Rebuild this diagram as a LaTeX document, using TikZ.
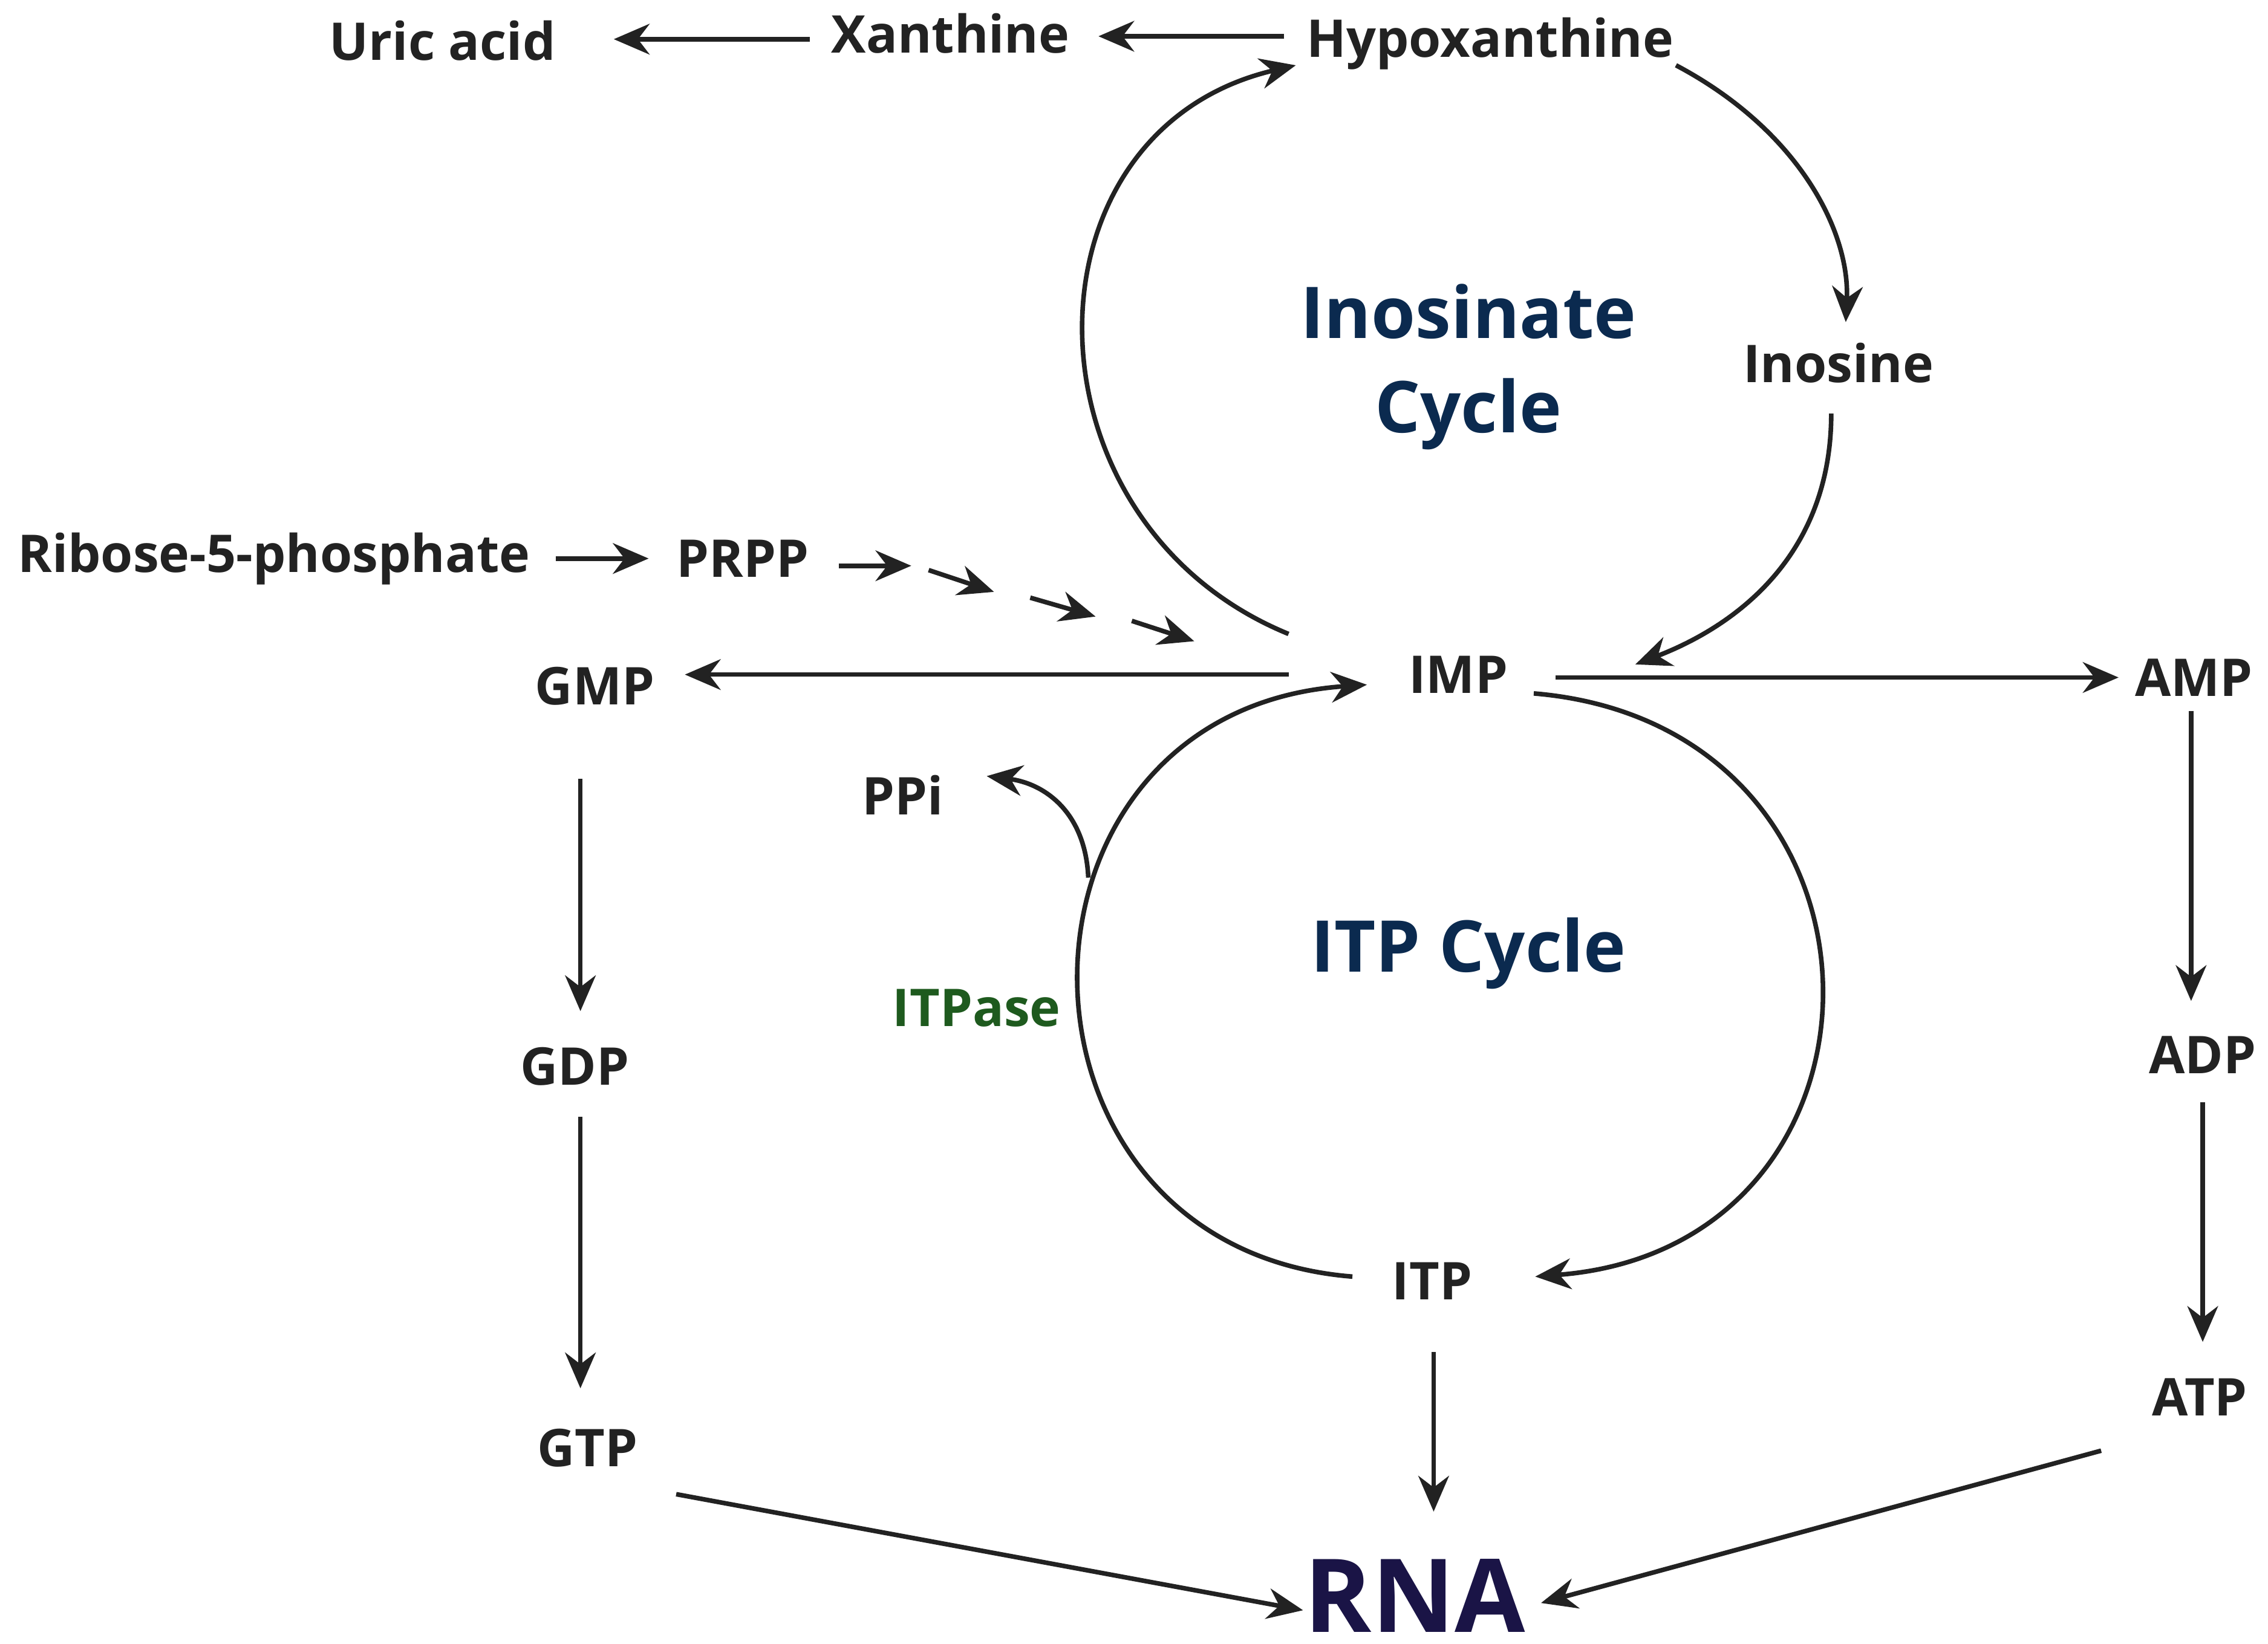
\documentclass[tikz,border=0pt]{standalone}
\usepackage{fontspec}
\setmainfont{Open Sans}
\usetikzlibrary{arrows.meta}
\definecolor{txt}{HTML}{222222}
\definecolor{navy}{HTML}{0B2A4F}
\definecolor{rnac}{HTML}{1A1446}
\definecolor{grn}{HTML}{1E5A1E}
\begin{document}
\begin{tikzpicture}[x=0.01cm,y=-0.01cm,
 lab/.style={font=\bfseries\fontsize{10.2}{12}\selectfont,text=txt,inner sep=1pt},
 ttl/.style={font=\bfseries\fontsize{14}{18.5}\selectfont,text=navy,align=center},
 arr/.style={-{Stealth[length=7pt,width=6pt]},line width=0.9pt,draw=txt}]
\useasboundingbox[fill=white] (0,0) rectangle (1563,1133);
\node[lab] (uric) at (305,28) {Uric acid};
\node[lab] (xan) at (655,23) {Xanthine};
\node[lab] (hyp) at (1027,30) {Hypoxanthine};
\node[lab] (ino) at (1267,250) {Inosine};
\node[ttl] (t1) at (1012,253) {Inosinate\\Cycle};
\node[lab,anchor=west] (rib) at (8,385) {Ribose-5-phosphate};
\node[lab] (prpp) at (512,385) {PRPP};
\node[lab] (gmp) at (410,473) {GMP};
\node[lab] (imp) at (1005,465) {IMP};
\node[lab] (amp) at (1512,467) {AMP};
\node[lab] (ppi) at (622,548) {PPi};
\node[ttl] (t2) at (1012,657) {ITP Cycle};
\node[lab,text=grn] (itpase) at (673,695) {ITPase};
\node[lab] (gdp) at (396,735) {GDP};
\node[lab] (adp) at (1518,727) {ADP};
\node[lab] (itp) at (987,883) {ITP};
\node[lab] (gtp) at (405,998) {GTP};
\node[lab] (atp) at (1516,963) {ATP};
\node[font=\bfseries\fontsize{20}{24}\selectfont,text=rnac] (rna) at (975,1100) {RNA};
% coordinates for free ends
\coordinate (x1) at (558,27); \coordinate (x2) at (423,27);
\coordinate (h1) at (885,25); \coordinate (h2) at (757,25);
\coordinate (a1) at (888,437); \coordinate (a2) at (893,45);
\coordinate (b1) at (1155,45); \coordinate (b2) at (1272,222);
\coordinate (c1) at (1262,285); \coordinate (c2) at (1127,458);
\coordinate (d1) at (1057,478); \coordinate (d2) at (1058,880);
\coordinate (e1) at (932,880); \coordinate (e2) at (942,472);
\coordinate (p1) at (750,605); \coordinate (p2) at (680,535);
\coordinate (r1) at (383,385); \coordinate (r2) at (447,385);
\coordinate (q1) at (578,390); \coordinate (q2) at (628,390);
\coordinate (s1) at (640,393); \coordinate (s2) at (685,408);
\coordinate (s3) at (710,412); \coordinate (s4) at (755,425);
\coordinate (s5) at (780,428); \coordinate (s6) at (823,442);
\coordinate (g1) at (888,465); \coordinate (g2) at (472,465);
\coordinate (m1) at (1072,467); \coordinate (m2) at (1460,467);
\coordinate (gd1) at (400,537); \coordinate (gd2) at (400,697);
\coordinate (gt1) at (400,770); \coordinate (gt2) at (400,957);
\coordinate (ad1) at (1510,490); \coordinate (ad2) at (1510,690);
\coordinate (at1) at (1518,760); \coordinate (at2) at (1518,925);
\coordinate (it1) at (988,932); \coordinate (it2) at (988,1042);
\coordinate (gr1) at (466,1030); \coordinate (gr2) at (898,1110);
\coordinate (ar1) at (1448,1000); \coordinate (ar2) at (1062,1105);
% arrows
\draw[arr] (x1) -- (x2);
\draw[arr] (h1) -- (h2);
\draw[arr] (a1) .. controls (700,360) and (700,90) .. (a2);
\draw[arr] (b1) .. controls (1240,90) and (1275,160) .. (b2);
\draw[arr] (c1) .. controls (1262,380) and (1200,430) .. (c2);
\draw[arr] (d1) .. controls (1320,500) and (1320,860) .. (d2);
\draw[arr] (e1) .. controls (680,860) and (680,490) .. (e2);
\draw[arr] (p1) .. controls (748,560) and (720,540) .. (p2);
\draw[arr] (r1) -- (r2);
\draw[arr] (q1) -- (q2);
\draw[arr] (s1) -- (s2);
\draw[arr] (s3) -- (s4);
\draw[arr] (s5) -- (s6);
\draw[arr] (g1) -- (g2);
\draw[arr] (m1) -- (m2);
\draw[arr] (gd1) -- (gd2);
\draw[arr] (gt1) -- (gt2);
\draw[arr] (ad1) -- (ad2);
\draw[arr] (at1) -- (at2);
\draw[arr] (it1) -- (it2);
\draw[arr] (gr1) -- (gr2);
\draw[arr] (ar1) -- (ar2);
\end{tikzpicture}
\end{document}
